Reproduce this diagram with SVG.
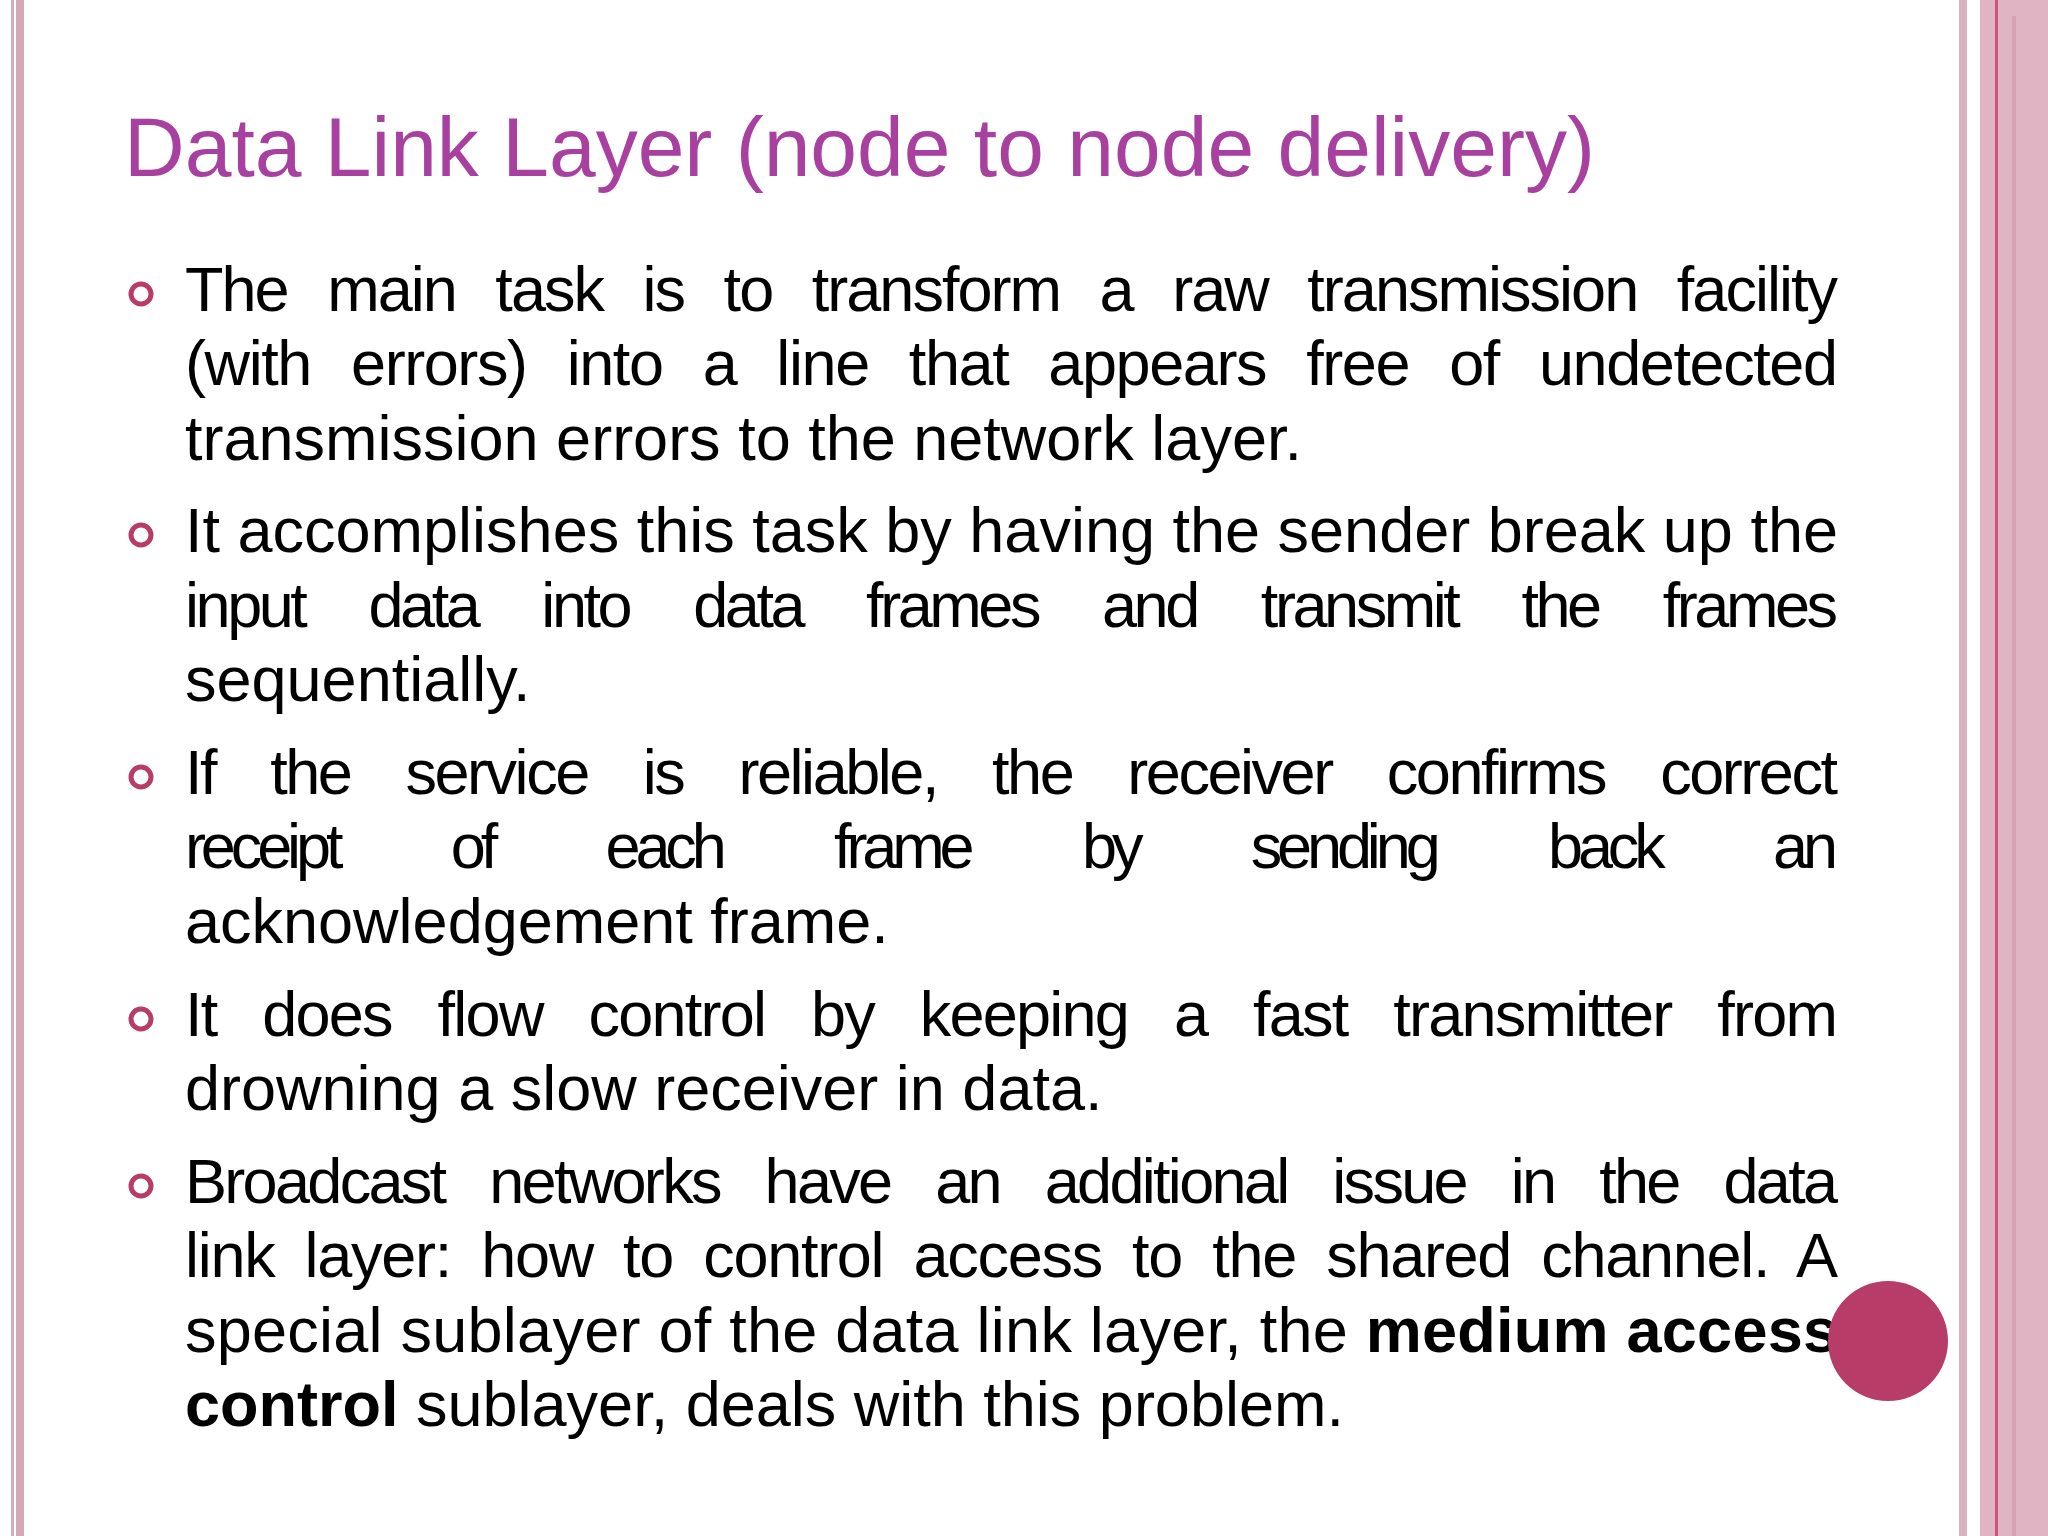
<svg xmlns="http://www.w3.org/2000/svg" width="2048" height="1536" viewBox="0 0 2048 1536">
<style>
.t{font-family:"Liberation Sans",Arial,sans-serif;font-size:63px;fill:#000}
.b{font-weight:bold}
.bul{fill:none;stroke:#B83C68;stroke-width:5}
</style>
<rect width="2048" height="1536" fill="#fff"/>
<g id="borders">
<rect x="11" y="0" width="3" height="1536" fill="#D8AEBB"/>
<rect x="16" y="0" width="8" height="1536" fill="#D4A8B6"/>
<rect x="1959" y="0" width="8" height="1536" fill="#DDB2C0"/>
<rect x="1980" y="0" width="68" height="1536" fill="#E0B4C2"/>
<rect x="1995" y="0" width="3" height="1536" fill="#C9557F"/>
<rect x="2012" y="16" width="4" height="1520" fill="#D6A3B5"/>
</g>
<text x="124" y="176" font-family="Liberation Sans,Arial,sans-serif" font-size="84" fill="#A8409F">Data Link Layer (node to node delivery)</text>
<g id="bullets">
<circle class="bul" cx="141" cy="294" r="10"/>
<circle class="bul" cx="141" cy="535" r="10"/>
<circle class="bul" cx="141" cy="777" r="10"/>
<circle class="bul" cx="141" cy="1019" r="10"/>
<circle class="bul" cx="141" cy="1186" r="10"/>
</g>
<g class="t">
<text x="185" y="311" textLength="1653" lengthAdjust="spacing" word-spacing="24">The main task is to transform a raw transmission facility</text>
<text x="185" y="385" textLength="1653" lengthAdjust="spacing" word-spacing="24">(with errors) into a line that appears free of undetected</text>
<text x="185" y="460">transmission errors to the network layer.</text>
<text x="185" y="552" textLength="1653" lengthAdjust="spacing">It accomplishes this task by having the sender break up the</text>
<text x="185" y="627" textLength="1653" lengthAdjust="spacing" word-spacing="50">input data into data frames and transmit the frames</text>
<text x="185" y="701">sequentially.</text>
<text x="185" y="794" textLength="1653" lengthAdjust="spacing" word-spacing="40">If the service is reliable, the receiver confirms correct</text>
<text x="185" y="868" textLength="1653" lengthAdjust="spacing" word-spacing="100">receipt of each frame by sending back an</text>
<text x="185" y="943">acknowledgement frame.</text>
<text x="185" y="1036" textLength="1653" lengthAdjust="spacing" word-spacing="30">It does flow control by keeping a fast transmitter from</text>
<text x="185" y="1110">drowning a slow receiver in data.</text>
<text x="185" y="1203" textLength="1653" lengthAdjust="spacing" word-spacing="30">Broadcast networks have an additional issue in the data</text>
<text x="185" y="1277" textLength="1653" lengthAdjust="spacing" word-spacing="14">link layer: how to control access to the shared channel. A</text>
<text x="185" y="1352" textLength="1653" lengthAdjust="spacing">special sublayer of the data link layer, the <tspan class="b">medium access</tspan></text>
<text x="185" y="1426"><tspan class="b">control</tspan> sublayer, deals with this problem.</text>
</g>
<circle id="dot" cx="1888" cy="1341" r="60" fill="#B83C68"/>
</svg>
